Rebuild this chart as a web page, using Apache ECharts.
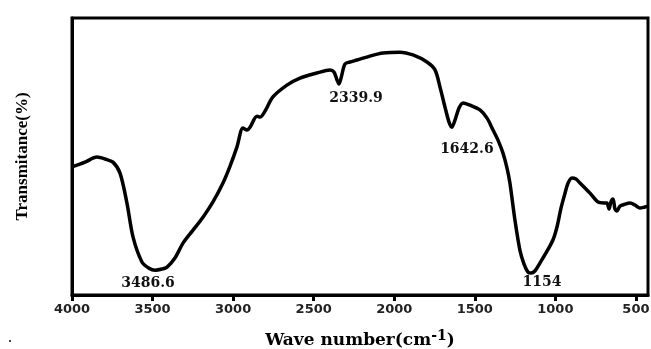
<!DOCTYPE html>
<html>
<head>
<meta charset="utf-8">
<script src="https://cdn.jsdelivr.net/npm/echarts@6/dist/echarts.min.js"></script>
<style>
  html, body { margin: 0; padding: 0; background: #fff; }
  #chart { width: 651px; height: 349px; }
</style>
</head>
<body>
<div id="chart"></div>
<script>
// FTIR spectrum
const waveNumbers = [4000, 3919, 3845, 3795, 3746, 3702, 3659, 3621, 3566, 3522, 3485, 3441, 3410, 3361, 3311,
  3249, 3187, 3125, 3063, 3019, 2976, 2939, 2914, 2895, 2852, 2833, 2802, 2753, 2666, 2585, 2480, 2399, 2374,
  2355, 2343, 2330, 2306, 2275, 2231, 2151, 2070, 1964, 1884, 1797, 1747, 1716, 1685, 1660, 1642, 1623, 1598,
  1573, 1530, 1468, 1424, 1387, 1356, 1325, 1300, 1282, 1251, 1220, 1195, 1170, 1151, 1127, 1096, 1058, 1015,
  990, 965, 940, 921, 897, 872, 847, 785, 736, 698, 680, 667, 655, 642, 630, 618, 599, 568, 537, 506, 475, 444, 425];
const transmittance = [47.2, 48.9, 50.7, 50.0, 48.9, 45.0, 34.4, 22.3, 13.5, 11.3, 10.6, 11.0, 11.7, 14.9, 20.2,
  24.8, 29.4, 34.8, 41.5, 47.5, 54.3, 61.0, 60.3, 61.3, 65.2, 64.9, 67.0, 72.0, 76.2, 78.7, 80.5, 81.6, 80.9,
  78.0, 76.6, 78.7, 83.7, 84.4, 85.1, 86.5, 87.6, 87.9, 86.9, 84.4, 81.6, 75.5, 68.4, 63.1, 61.3, 63.8, 68.1,
  69.9, 69.1, 67.4, 64.5, 60.3, 56.7, 52.1, 46.8, 41.5, 28.4, 17.7, 12.8, 9.9, 9.6, 10.3, 13.1, 16.7, 21.3,
  25.9, 32.6, 37.9, 41.5, 43.3, 42.9, 41.5, 37.9, 34.8, 34.4, 34.4, 32.3, 34.8, 35.8, 32.3, 31.6, 33.3, 34.0,
  34.4, 33.7, 32.6, 33.0, 33.3];

// labelled bands
const peakNames = ['3486.6', '2339.9', '1642.6', '1154'];
const peakX = [3485, 2343, 1642, 1151];
const peakY = [10.6, 76.6, 61.3, 9.6];
const peakOffsets = [[-7, 13], [17, 14], [15, 22], [11, 9]];

const xTicks = [4000, 3500, 3000, 2500, 2000, 1500, 1000, 500];

const chart = echarts.init(document.getElementById('chart'));
const serif = '"Liberation Serif", "Times New Roman", serif';
const wideSerif = '"DejaVu Serif", serif';

const option = {
  animation: false,
  grid: {
    left: 72, right: 3, top: 18, bottom: 54,
    containLabel: false,
    outerBoundsMode: 'none',
    show: true, borderColor: '#000', borderWidth: 3
  },
  xAxis: {
    type: 'value',
    inverse: true,
    min: 425,
    max: 4000,
    name: 'Wave number(cm{sup|-1})',
    nameLocation: 'middle',
    nameGap: 34,
    nameTextStyle: {
      fontFamily: wideSerif, fontWeight: 'bold', fontSize: 17, color: '#000',
      rich: { sup: { fontFamily: wideSerif, fontWeight: 'bold', fontSize: 14, verticalAlign: 'bottom', padding: [0, 0, 10, 0] } }
    },
    splitLine: { show: false },
    axisLine: { show: true, onZero: false, lineStyle: { color: '#000', width: 3 } },
    axisTick: { show: true, customValues: xTicks, length: 6, lineStyle: { color: '#000', width: 3 } },
    axisLabel: {
      customValues: xTicks,
      formatter: function (v) { return String(v); },
      fontFamily: '"DejaVu Sans", sans-serif',
      fontWeight: 'bold', fontSize: 13, color: '#222', margin: 8
    }
  },
  yAxis: {
    type: 'value',
    min: 1.8,
    max: 100,
    name: 'Transmitance(%)',
    nameLocation: 'middle',
    nameGap: 41,
    nameTextStyle: { fontFamily: serif, fontWeight: 'bold', fontSize: 17, color: '#000' },
    splitLine: { show: false },
    axisLine: { show: true, lineStyle: { color: '#000', width: 3 } },
    axisTick: { show: false },
    axisLabel: { show: false }
  },
  series: [{
    type: 'line',
    data: waveNumbers.map((w, i) => [w, transmittance[i]]),
    showSymbol: false,
    smooth: 0.3,
    lineStyle: { color: '#000', width: 3.5 },
    markPoint: {
      symbol: 'circle',
      symbolSize: 0,
      label: {
        show: true,
        fontFamily: wideSerif, fontWeight: 'bold', fontSize: 14, color: '#111'
      },
      data: peakNames.map((n, i) => ({
        coord: [peakX[i], peakY[i]],
        label: { formatter: n, offset: peakOffsets[i] }
      }))
    }
  }],
  graphic: [{
    type: 'text', left: 8, top: 330,
    style: { text: '.', fontSize: 16, fontFamily: serif, fill: '#000' }
  }]
};

chart.setOption(option);
window.addEventListener('resize', function () { chart.resize(); });
</script>
</body>
</html>
